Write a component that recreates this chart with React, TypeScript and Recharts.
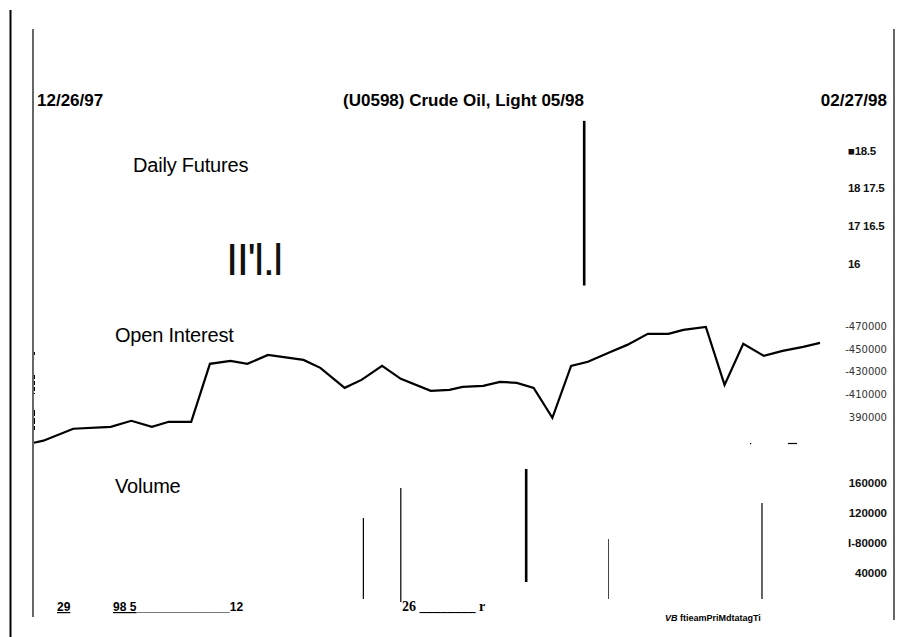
import React from "react";
import { LineChart, Line, XAxis, YAxis } from "recharts";

// trading-day index (0 = 12/26/97, 42 = 02/27/98)
const oiDays = [
  0, 0.5, 2.1, 4.1, 5.2, 6.3, 7.2, 8.4, 9.4, 10.5, 11.4, 12.5, 14.4, 15.3,
  16.6, 17.5, 18.6, 19.6, 21.2, 22.2, 22.9, 24.0, 24.9, 25.8, 26.7, 27.7,
  28.7, 29.6, 30.8, 31.7, 32.8, 33.9, 34.7, 35.9, 36.9, 37.9, 39.0, 40.0,
  41.1, 42.0,
];
const oiValues = [
  367200, 369000, 379500, 381200, 386500, 381200, 385600, 385600, 436600,
  439200, 436600, 444500, 440100, 433100, 415500, 422500, 434800, 423400,
  412900, 413700, 416400, 417300, 420800, 419900, 415500, 389100, 434800,
  438400, 447100, 453300, 463000, 463000, 466500, 469100, 418100, 454200,
  443600, 448000, 451500, 455100,
];

const futuresDays = [29.4];
const futuresLow = [15.52];
const futuresHigh = [19.16];

const volumeDays = [17.6, 19.6, 26.3, 30.7, 38.9];
const volumeLow = [5300, 1300, 27900, 5300, 5300];
const volumeHigh = [112900, 152800, 178000, 85000, 132900];

const futuresTicks = [16, 16.833, 17.667, 18.5];
const futuresTickLabels = ["16", "17 16.5", "18 17.5", "\u25A018.5"];
const oiTicks = [390000, 410000, 430000, 450000, 470000];
const oiTickLabels = ["390000", "-410000", "-430000", "-450000", "-470000"];
const volumeTicks = [40000, 80000, 120000, 160000];
const volumeTickLabels = ["40000", "I-80000", "120000", "160000"];

const W = 897;
const SANS = "'Liberation Sans', Arial, sans-serif";
const volumeStroke = [1.2, 1.2, 2.6, 1, 1.2];

const makeTick =
  (labels: string[], ticks: number[], x: number, anchor: "start" | "end", style: any) =>
  (props: any) => {
    const i = ticks.indexOf(props.payload.value);
    return (
      <text x={x} y={props.y} dy={4} textAnchor={anchor} fill="#111" {...style}>
        {labels[i]}
      </text>
    );
  };

const panelStyle = (top: number): React.CSSProperties => ({
  position: "absolute",
  left: 0,
  top,
});

const App = () => {
  const oiData = oiDays.map((d, i) => ({ day: d, oi: oiValues[i] }));

  return (
    <div style={{ position: "absolute", left: 0, top: 0, width: W, height: 637, background: "#fff", fontFamily: SANS }}>
      {/* Daily futures */}
      <div style={panelStyle(0)}>
        <LineChart width={W} height={300} margin={{ top: 110, right: 0, left: 34, bottom: 0 }}>
          <XAxis type="number" dataKey="day" domain={[0, 42]} hide />
          <YAxis
            orientation="right"
            width={77}
            domain={[15.2, 19.4]}
            ticks={futuresTicks}
            axisLine={false}
            tickLine={false}
            interval={0}
            tick={makeTick(futuresTickLabels, futuresTicks, 848, "start", { fontFamily: SANS, fontWeight: 700, fontSize: 11.5, letterSpacing: -0.3 })}
          />
          {futuresDays.map((d, i) => (
            <Line
              key={"f" + i}
              data={[{ day: d, p: futuresLow[i] }, { day: d, p: futuresHigh[i] }]}
              dataKey="p"
              stroke="#000"
              strokeWidth={2.6}
              dot={false}
              isAnimationActive={false}
            />
          ))}
        </LineChart>
      </div>

      {/* Open interest */}
      <div style={panelStyle(300)}>
        <LineChart width={W} height={170} data={oiData} margin={{ top: 10, right: 0, left: 34, bottom: 10 }}>
          <XAxis type="number" dataKey="day" domain={[0, 42]} hide />
          <YAxis
            orientation="right"
            width={77}
            domain={[352000, 484000]}
            ticks={oiTicks}
            axisLine={false}
            tickLine={false}
            interval={0}
            tick={makeTick(oiTickLabels, oiTicks, 887, "end", { fontFamily: "'DejaVu Sans', sans-serif", fontSize: 10, fill: "#333" })}
          />
          <Line type="linear" dataKey="oi" stroke="#000" strokeWidth={2.2} dot={false} isAnimationActive={false} />
        </LineChart>
      </div>

      {/* Volume */}
      <div style={panelStyle(460)}>
        <LineChart width={W} height={160} margin={{ top: 3, right: 0, left: 34, bottom: 17 }}>
          <XAxis type="number" dataKey="day" domain={[0, 42]} hide />
          <YAxis
            orientation="right"
            width={77}
            domain={[0, 186000]}
            ticks={volumeTicks}
            axisLine={false}
            tickLine={false}
            interval={0}
            tick={makeTick(volumeTickLabels, volumeTicks, 887, "end", { fontFamily: SANS, fontWeight: 700, fontSize: 11.5 })}
          />
          {volumeDays.map((d, i) => (
            <Line
              key={"v" + i}
              data={[{ day: d, v: volumeLow[i] }, { day: d, v: volumeHigh[i] }]}
              dataKey="v"
              stroke={i === 3 ? "#444" : "#000"}
              strokeWidth={volumeStroke[i]}
              dot={false}
              isAnimationActive={false}
            />
          ))}
        </LineChart>
      </div>

      {/* frame, titles and leftover labels */}
      <svg width={W} height={637} style={{ position: "absolute", left: 0, top: 0, pointerEvents: "none" }}>
        <line x1={10.5} y1={10} x2={10.5} y2={637} stroke="#000" strokeWidth={2} />
        <line x1={33} y1={29} x2={33} y2={617} stroke="#000" strokeWidth={1.2} />
        <line x1={894} y1={29} x2={894} y2={620} stroke="#000" strokeWidth={1.2} />
        <line x1={34.5} y1={352} x2={34.5} y2={355} stroke="#000" strokeWidth={1} />
        <line x1={34.5} y1={375} x2={34.5} y2={394} stroke="#000" strokeWidth={1} strokeDasharray="4 2" />
        <line x1={34.5} y1={410} x2={34.5} y2={430} stroke="#000" strokeWidth={1} strokeDasharray="6 2" />
        <line x1={788} y1={443.5} x2={797} y2={443.5} stroke="#000" strokeWidth={1.2} />
        <rect x={750} y={443} width={1.2} height={1.2} fill="#000" />

        <g fontFamily={SANS} fontWeight={700} fontSize={17} fill="#000">
          <text x={37} y={106}>12/26/97</text>
          <text x={463.5} y={106} textAnchor="middle">(U0598) Crude Oil, Light 05/98</text>
          <text x={887} y={106} textAnchor="end">02/27/98</text>
        </g>

        <g fontFamily={SANS} fontSize={20} fill="#000" letterSpacing={-0.2}>
          <text x={133} y={172}>Daily Futures</text>
          <text x={115} y={342}>Open Interest</text>
          <text x={115} y={493}>Volume</text>
        </g>
        <text x={226} y={275} fontFamily={SANS} fontSize={44} letterSpacing={-1.5} fill="#111">II'l.l</text>

        <g fontFamily={SANS} fontWeight={700} fontSize={12} fill="#000">
          <text x={57} y={611} textDecoration="underline">29</text>
          <text x={113} y={611}>
            <tspan textDecoration="underline">98 5</tspan>
            <tspan>______________12</tspan>
          </text>
        </g>
        <text x={402} y={611} fontFamily="'Liberation Serif', 'Times New Roman', serif" fontWeight={700} fontSize={14} fill="#000">
          26 ________ r
        </text>
        <text x={665} y={621} fontFamily={SANS} fontWeight={700} fontSize={9} fill="#000">
          <tspan fontStyle="italic">VB</tspan> ftieamPriMdtatagTi
        </text>
      </svg>
    </div>
  );
};

export default App;
